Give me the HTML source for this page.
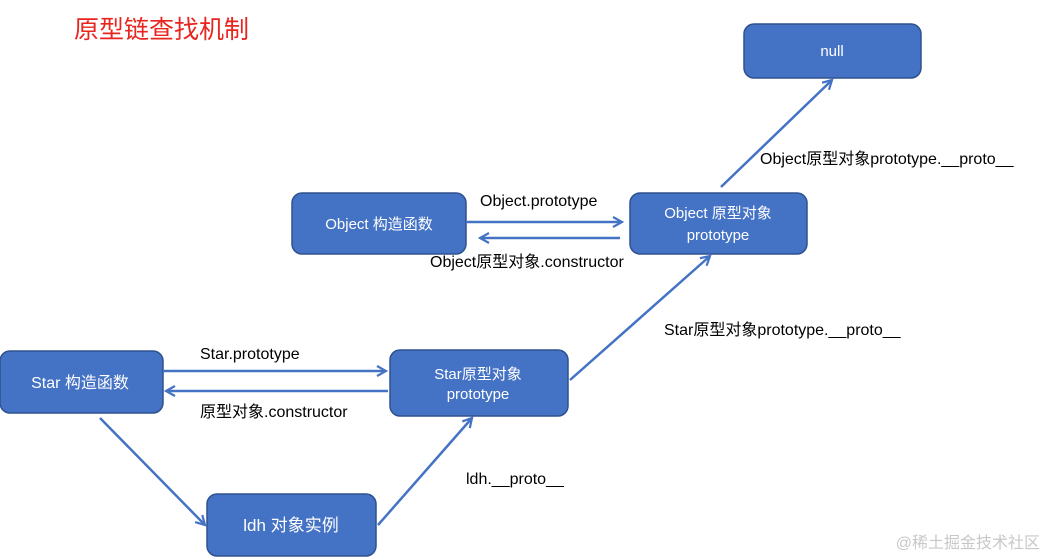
<!DOCTYPE html>
<html><head><meta charset="utf-8"><style>
html,body{margin:0;padding:0;background:#fff;}
svg{display:block;}
text{font-family:"Liberation Sans","Noto Sans CJK SC",sans-serif;}
</style></head><body>
<svg width="1046" height="558" viewBox="0 0 1046 558" xmlns="http://www.w3.org/2000/svg">
<defs>
<marker id="a" viewBox="0 0 12 12" refX="10" refY="6" markerWidth="12" markerHeight="12" markerUnits="userSpaceOnUse" orient="auto">
<path d="M1,1 L10,6 L1,11" fill="none" stroke="#4472c4" stroke-width="2.2"/>
</marker>
</defs>
<text x="74" y="38" font-size="25" fill="#e8251e">原型链查找机制</text>
<g fill="#4472c4" stroke="#2f528f" stroke-width="1.5">
<rect x="744" y="24" width="177" height="54" rx="10"/>
<rect x="292" y="193" width="174" height="61" rx="10"/>
<rect x="630" y="193" width="177" height="61" rx="10"/>
<rect x="0" y="351" width="163" height="62" rx="10"/>
<rect x="390" y="350" width="178" height="66" rx="10"/>
<rect x="207" y="494" width="169" height="62" rx="10"/>
</g>
<g fill="#fff" font-size="15" text-anchor="middle">
<text x="832" y="56">null</text>
<text x="379" y="229">Object 构造函数</text>
<text x="718" y="218">Object 原型对象</text>
<text x="718" y="240">prototype</text>
<text x="80" y="388" font-size="16">Star 构造函数</text>
<text x="478" y="379">Star原型对象</text>
<text x="478" y="399">prototype</text>
<text x="291" y="531" font-size="17">ldh 对象实例</text>
</g>
<g stroke="#4472c4" stroke-width="2.5" fill="none" marker-end="url(#a)">
<line x1="466" y1="222" x2="622" y2="222"/>
<line x1="620" y1="238" x2="480" y2="238"/>
<line x1="163" y1="371" x2="386" y2="371"/>
<line x1="388" y1="391" x2="166" y2="391"/>
<line x1="100" y1="418" x2="205" y2="525"/>
<line x1="378" y1="525" x2="472" y2="418"/>
<line x1="570" y1="380" x2="710" y2="256"/>
<line x1="721" y1="187" x2="832" y2="80"/>
</g>
<g fill="#000" font-size="16">
<text x="480" y="206">Object.prototype</text>
<text x="430" y="267">Object原型对象.constructor</text>
<text x="760" y="164">Object原型对象prototype.__proto__</text>
<text x="664" y="335">Star原型对象prototype.__proto__</text>
<text x="200" y="359">Star.prototype</text>
<text x="200" y="417">原型对象.constructor</text>
<text x="466" y="484">ldh.__proto__</text>
</g>
<text x="1040" y="548" font-size="16" fill="#c8c8c8" text-anchor="end">@稀土掘金技术社区</text>
</svg>
</body></html>
